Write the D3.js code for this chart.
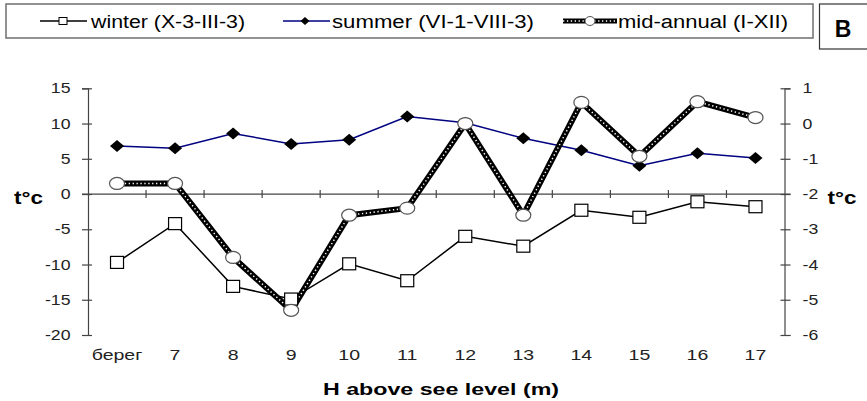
<!DOCTYPE html>
<html>
<head>
<meta charset="utf-8">
<script src="https://cdn.jsdelivr.net/npm/d3@7"></script>
<style>
  body { margin:0; background:#fff; }
  text { font-family: "Liberation Sans", Arial, sans-serif; }
</style>
</head>
<body>
<div id="plot"></div>
<script>
// categories and series
var heights = ['берег','7','8','9','10','11','12','13','14','15','16','17'];
var winter  = [-9.7, -4.2, -13.1, -14.9, -9.9, -12.3, -6.0, -7.4, -2.3, -3.3, -1.1, -1.8];
var summer  = [6.8, 6.5, 8.6, 7.1, 7.7, 11.0, 10.1, 7.9, 6.2, 4.0, 5.8, 5.1];
var midAnnual = [-1.7, -1.7, -3.8, -5.3, -2.6, -2.4, 0.0, -2.6, 0.6, -0.93, 0.62, 0.17]; // right axis
var leftTicks  = [-20,-15,-10,-5,0,5,10,15];
var rightTicks = [-6,-5,-4,-3,-2,-1,0,1];

var W = 867, H = 401;
var svg = d3.select('#plot').append('svg')
    .attr('width', W).attr('height', H);

var x = d3.scaleBand().domain(heights).range([88, 784.5]);
var yL = d3.scaleLinear().domain([-20, 15]).range([335, 88.3]);
var yR = d3.scaleLinear().domain([-6, 1]).range([335, 88.3]);

var axisColor = '#444';

//the original text is a bit wider than the font, so stretch it
function stretch(sel, k){
    sel.each(function(){
        var w = this.getComputedTextLength();
        d3.select(this).attr('textLength', w*k).attr('lengthAdjust','spacingAndGlyphs');
    });
}

//left axis
var gL = svg.append('g').attr('transform','translate(' + x.range()[0] + ',0)')
    .call(d3.axisLeft(yL).tickValues(leftTicks).tickSize(6).tickPadding(11.5).tickFormat(function(d){ return String(d); }));
//right axis
var gR = svg.append('g').attr('transform','translate(' + x.range()[1] + ',0)')
    .call(d3.axisRight(yR).tickValues(rightTicks).tickSize(6).tickPadding(12).tickFormat(function(d){ return String(d); }));

[gL, gR].forEach(function(g){
    g.select('.domain').attr('stroke', axisColor).attr('stroke-width',1.2);
    g.selectAll('.tick line').attr('stroke', axisColor).attr('stroke-width',1.2);
    g.selectAll('.tick text').attr('font-size',14.5).attr('fill','#222')
        .attr('font-family','"Liberation Sans", Arial, sans-serif')
        .call(stretch, 1.22);
});
gL.selectAll('.tick line').attr('x1', 4);
gR.selectAll('.tick line').attr('x1', -4);

//horizontal axis at zero
var y0 = yL(0);
svg.append('line')
    .attr('x1', x.range()[0] - 6).attr('x2', x.range()[1] + 6)
    .attr('y1', y0).attr('y2', y0)
    .attr('stroke', axisColor).attr('stroke-width',1.2);
svg.selectAll('.xtick')
    .data(heights.slice(1))
    .enter().append('line')
    .attr('x1', function(d){ return x(d); })
    .attr('x2', function(d){ return x(d); })
    .attr('y1', y0 - 4).attr('y2', y0 + 4)
    .attr('stroke', axisColor).attr('stroke-width',1.2);

//category labels at the bottom
svg.selectAll('.xlab')
    .data(heights)
    .enter().append('text')
    .attr('x', function(d){ return x(d) + x.bandwidth()/2; })
    .attr('y', 360)
    .attr('text-anchor','middle')
    .attr('font-size',15)
    .attr('fill','#222')
    .text(function(d){ return d; })
    .call(stretch, 1.3);

var cx = function(d,i){ return x(heights[i]) + x.bandwidth()/2; };

//winter
svg.append('path')
    .datum(winter)
    .attr('d', d3.line().x(cx).y(function(d){ return yL(d); }))
    .attr('fill','none').attr('stroke','#000').attr('stroke-width',1.5);

//summer
svg.append('path')
    .datum(summer)
    .attr('d', d3.line().x(cx).y(function(d){ return yL(d); }))
    .attr('fill','none').attr('stroke','#000080').attr('stroke-width',1.5);

//mid-annual: thick black line with white dots
var midLine = d3.line().x(cx).y(function(d){ return yR(d); });
svg.append('path')
    .datum(midAnnual)
    .attr('d', midLine)
    .attr('fill','none').attr('stroke','#000').attr('stroke-width',6)
    .attr('stroke-linejoin','round');
svg.append('path')
    .datum(midAnnual)
    .attr('d', midLine)
    .attr('fill','none').attr('stroke','#fff').attr('stroke-width',1.5)
    .attr('stroke-dasharray','1.3,2.6');

//markers
svg.selectAll('.sq')
    .data(winter)
    .enter().append('rect')
    .attr('x', function(d,i){ return cx(d,i) - 6.5; })
    .attr('y', function(d){ return yL(d) - 6; })
    .attr('width',13).attr('height',12)
    .attr('fill','#fff').attr('stroke','#000').attr('stroke-width',1.2);

svg.selectAll('.dia')
    .data(summer)
    .enter().append('path')
    .attr('transform', function(d,i){ return 'translate(' + cx(d,i) + ',' + yL(d) + ')'; })
    .attr('d','M0,-6L7,0L0,6L-7,0Z')
    .attr('fill','#000');

svg.selectAll('.circ')
    .data(midAnnual)
    .enter().append('ellipse')
    .attr('cx', cx)
    .attr('cy', function(d){ return yR(d); })
    .attr('rx',7.5).attr('ry',6)
    .attr('fill','#fff').attr('stroke','#555').attr('stroke-width',1.2);

//axis titles
svg.append('text').attr('x',28.5).attr('y',203.5).attr('font-size',18).attr('font-weight','bold')
    .attr('text-anchor','middle').attr('textLength',29).attr('lengthAdjust','spacingAndGlyphs').text('t°c');
svg.append('text').attr('x',842).attr('y',203.5).attr('font-size',18).attr('font-weight','bold')
    .attr('text-anchor','middle').attr('textLength',29).attr('lengthAdjust','spacingAndGlyphs').text('t°c');
svg.append('text').attr('x',441).attr('y',395).attr('font-size',17).attr('font-weight','bold')
    .attr('text-anchor','middle').attr('textLength',236).attr('lengthAdjust','spacingAndGlyphs')
    .text('H above see level (m)');

//legend
svg.append('rect')
    .attr('x',6).attr('y',4).attr('width',807).attr('height',34)
    .attr('fill','#fff').attr('stroke','#777').attr('stroke-width',1.6);

var ly = 21;
//winter
svg.append('line').attr('x1',40).attr('x2',87).attr('y1',ly).attr('y2',ly).attr('stroke','#000').attr('stroke-width',1.5);
svg.append('rect').attr('x',59).attr('y',ly-3.5).attr('width',8).attr('height',7)
    .attr('fill','#fff').attr('stroke','#000').attr('stroke-width',1);
svg.append('text').attr('x',91).attr('y',ly+6.5).attr('font-size',18)
    .attr('textLength',154).attr('lengthAdjust','spacingAndGlyphs').text('winter (X-3-III-3)');
//summer
svg.append('line').attr('x1',283).attr('x2',330).attr('y1',ly).attr('y2',ly).attr('stroke','#000080').attr('stroke-width',1.5);
svg.append('path').attr('transform','translate(305,' + ly + ')').attr('d','M0,-4L4.5,0L0,4L-4.5,0Z').attr('fill','#000');
svg.append('text').attr('x',332).attr('y',ly+6.5).attr('font-size',18)
    .attr('textLength',202).attr('lengthAdjust','spacingAndGlyphs').text('summer (VI-1-VIII-3)');
//mid-annual
svg.append('line').attr('x1',563).attr('x2',617).attr('y1',ly).attr('y2',ly).attr('stroke','#000').attr('stroke-width',5);
svg.append('line').attr('x1',563).attr('x2',617).attr('y1',ly).attr('y2',ly).attr('stroke','#fff').attr('stroke-width',1.4)
    .attr('stroke-dasharray','1.3,2.6');
svg.append('ellipse').attr('cx',590).attr('cy',ly).attr('rx',5).attr('ry',4.5)
    .attr('fill','#fff').attr('stroke','#555').attr('stroke-width',1);
svg.append('text').attr('x',618).attr('y',ly+6.5).attr('font-size',18)
    .attr('textLength',170).attr('lengthAdjust','spacingAndGlyphs').text('mid-annual (I-XII)');

//panel letter
svg.append('rect').attr('x',819.5).attr('y',4).attr('width',52).attr('height',45)
    .attr('fill','#fff').attr('stroke','#333').attr('stroke-width',1.2);
svg.append('text').attr('x',843).attr('y',37.3).attr('font-size',23).attr('font-weight','bold')
    .attr('text-anchor','middle').text('B');
</script>
</body>
</html>
